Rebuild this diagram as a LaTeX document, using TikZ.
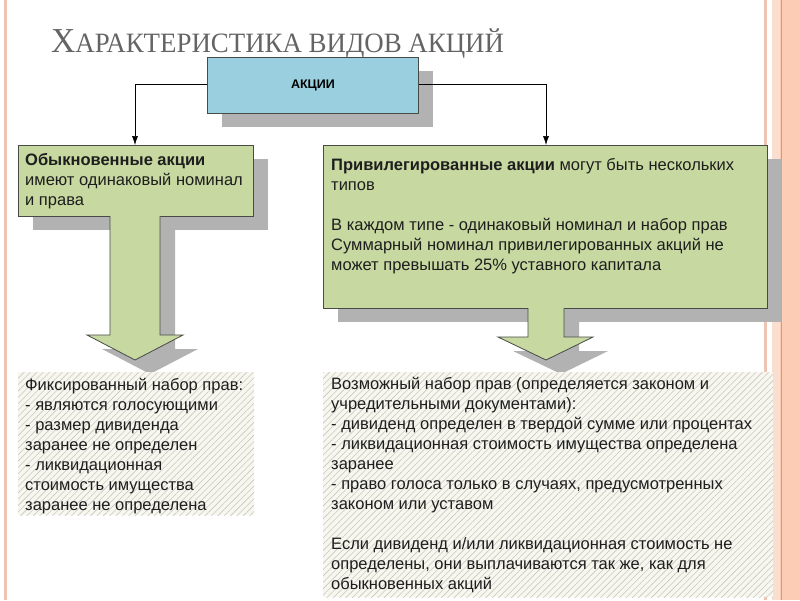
\documentclass[tikz,border=0pt]{standalone}
\usepackage{fontspec}
\setmainfont{Liberation Sans}
\newfontfamily\titlefont{Liberation Serif}
\usetikzlibrary{patterns.meta}
\usetikzlibrary{arrows.meta}
\definecolor{boxgreen}{RGB}{199,216,160}
\definecolor{boxblue}{RGB}{153,207,222}
\definecolor{edgegray}{RGB}{70,75,70}
\definecolor{shadowgray}{RGB}{178,178,178}
\definecolor{hatchbg}{RGB}{247,247,240}
\definecolor{hatchline}{RGB}{200,200,190}
\definecolor{txt}{RGB}{30,30,30}
\definecolor{peach}{RGB}{253,204,181}
\definecolor{peachlight}{RGB}{250,222,208}
\definecolor{peachline}{RGB}{228,150,110}
\definecolor{pinkline}{RGB}{240,196,180}
\tikzset{
  greenbox/.style={draw=edgegray, line width=0.8pt, fill=boxgreen, rectangle, inner sep=0pt, anchor=north west},
  hatchbox/.style={rectangle, inner sep=0pt, anchor=north west, fill=hatchbg,
     postaction={pattern={Lines[angle=45,distance=4.5pt,line width=0.6pt]}, pattern color=hatchline}},
  bodytext/.style={anchor=base west, inner sep=0pt, text=txt, font=\fontsize{16.5}{20}\selectfont},
  conn/.style={draw=black, line width=0.6pt, -{Latex[length=9pt,width=6pt]}},
}
\begin{document}
\begin{tikzpicture}[x=1pt,y=-1pt]
\useasboundingbox (0,0) rectangle (800,600);
\fill[white] (0,0) rectangle (800,600);
% frame
\fill[pinkline] (4,0) rectangle (7,600);
\fill[pinkline] (764,0) rectangle (767,600);
\fill[peachlight] (772,0) rectangle (780,600);
\fill[peach] (780,0) rectangle (800,600);
\draw[peachline, line width=1pt] (781,0) -- (781,600);
% title
\node[anchor=base west, inner sep=0pt, text={rgb,255:red,100;green,100;blue,100}] (title) at (51,52)
  {\titlefont\scalebox{0.96}[1]{\fontsize{35}{35}\selectfont Х\fontsize{28}{28}\selectfont АРАКТЕРИСТИКА ВИДОВ АКЦИЙ}};
% shadows
\fill[shadowgray] (222,71) rectangle (433,127);
\fill[shadowgray] (33,159) rectangle (268,230);
\fill[shadowgray] (125,230) -- (125,349) -- (102,349) -- (150,374) -- (198,349) -- (175,349) -- (175,230) -- cycle;
\fill[shadowgray] (338,322) rectangle (782,159);
\fill[shadowgray] (543,322) -- (543,351) -- (513,351) -- (561,374) -- (608,351) -- (579,351) -- (579,322) -- cycle;
% top box
\node[draw=edgegray, line width=0.8pt, fill=boxblue, rectangle, inner sep=0pt, anchor=north west,
  minimum width=211pt, minimum height=56pt] (akcii) at (207,57) {};
\node[font=\fontsize{12.5}{14}\selectfont\bfseries, text=black] (akciitext) at (akcii.center) {АКЦИИ};
% left green box + arrow
\node[greenbox, minimum width=235pt, minimum height=71pt] (ord) at (18,145) {};
\fill[boxgreen] (110,212) -- (110,335) -- (87,335) -- (135,360) -- (183,335) -- (160,335) -- (160,212) -- cycle;
\draw[edgegray, line width=0.8pt] (110,216) -- (110,335) -- (87,335) -- (135,360) -- (183,335) -- (160,335) -- (160,216);
% right green box + arrow
\node[greenbox, minimum width=444pt, minimum height=163pt] (pref) at (323,145) {};
\fill[boxgreen] (528,304) -- (528,337) -- (498,337) -- (546,360) -- (593,337) -- (564,337) -- (564,304) -- cycle;
\draw[edgegray, line width=0.8pt] (528,308) -- (528,337) -- (498,337) -- (546,360) -- (593,337) -- (564,337) -- (564,308);
% connectors
\coordinate (lc) at (135,84);
\coordinate (rc) at (546,84);
\draw[conn] (akcii.west |- lc) -- (lc) -- (lc |- ord.north);
\draw[conn] (akcii.east |- rc) -- (rc) -- (rc |- pref.north);
% texts in green boxes
\node[bodytext] (ordtext) at (25,165) {\parbox[t]{230pt}{\raggedright
  \textbf{Обыкновенные акции}\\имеют одинаковый номинал\\и права}};
\node[bodytext] (preftext) at (331,170) {\parbox[t]{430pt}{\raggedright
  \textbf{Привилегированные акции} могут быть нескольких\\типов\\[20pt]В каждом типе - одинаковый номинал и набор прав\\Суммарный номинал привилегированных акций не\\может превышать 25\% уставного капитала}};
% hatched boxes
\node[hatchbox, minimum width=236pt, minimum height=143pt] (fixbox) at (18,372) {};
\node[hatchbox, minimum width=450pt, minimum height=225pt] (possbox) at (323,372) {};
\node[bodytext] (fixtext) at (25,390) {\parbox[t]{230pt}{\raggedright
  Фиксированный набор прав:\\- являются голосующими\\- размер дивиденда\\заранее не определен\\- ликвидационная\\стоимость имущества\\заранее не определена}};
\node[bodytext] (posstext) at (331,389) {\parbox[t]{440pt}{\raggedright
  Возможный набор прав (определяется законом и\\учредительными документами):\\- дивиденд определен в твердой сумме или процентах\\- ликвидационная стоимость имущества определена\\заранее\\- право голоса только в случаях, предусмотренных\\законом или уставом\\[20pt]Если дивиденд и/или ликвидационная стоимость не\\определены, они выплачиваются так же, как для\\обыкновенных акций}};
\end{tikzpicture}
\end{document}
